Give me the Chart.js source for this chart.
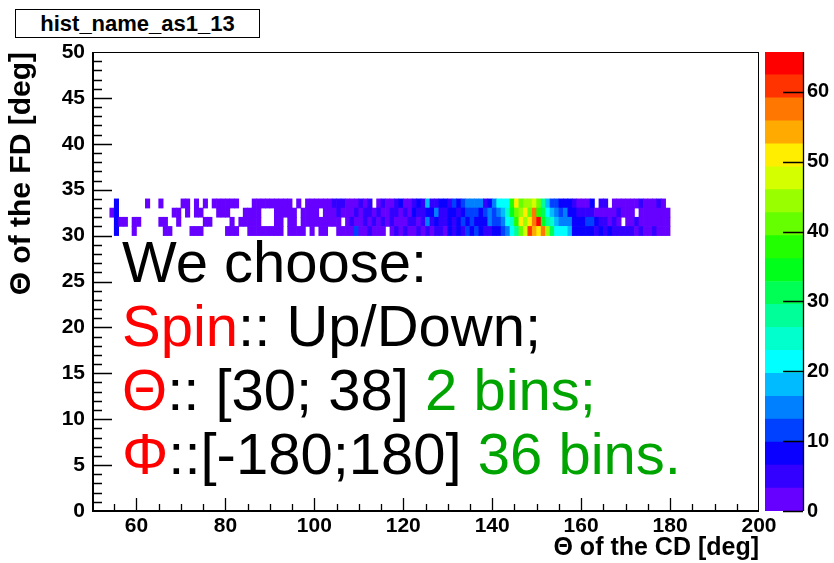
<!DOCTYPE html>
<html>
<head>
<meta charset="utf-8">
<title>hist_name_as1_13</title>
<script src="https://cdn.jsdelivr.net/npm/chart.js@4.4.1/dist/chart.umd.min.js"></script>
<style>
  body { margin: 0; background: #fff; }
  #wrap { position: relative; width: 834px; height: 563px; overflow: hidden; font-family: "Liberation Sans", Arial, sans-serif; }
  #hist { position: absolute; left: 0; top: 0; }
  #palette { position: absolute; left: 760px; top: 0; }
  #title { position: absolute; left: 15px; top: 9px; width: 243px; height: 27px; border: 1px solid #000; background: #fff;
           font-weight: bold; font-size: 22px; line-height: 27px; text-align: center; }
  #note { position: absolute; left: 122px; top: 230px; font-size: 58px; line-height: 64px; color: #000; white-space: nowrap; }
  .red { color: #ff0000; }
  .green { color: #00a400; }
</style>
</head>
<body>
<div id="wrap">
  <canvas id="hist" width="834" height="563"></canvas>
  <canvas id="palette" width="74" height="563"></canvas>
  <div id="title">hist_name_as1_13</div>
  <div id="note">
    <div>We choose:</div>
    <div><span class="red">Spin</span>:: Up/Down;</div>
    <div><span class="red">Θ</span>:: [30; 38] <span class="green">2 bins;</span></div>
    <div><span class="red">Φ</span>::[-180;180] <span class="green">36 bins.</span></div>
  </div>
</div>
<script>
// CD theta bins: 1 deg wide, first bin starts at 54 deg
const cdStart = 54;

// FD theta rows (low edge of each 1 deg bin)
const fdRows = [30, 31, 32, 33];

// Counts per CD bin (54..179) for each FD row
const row30 = [
  0, 9, 0, 0, 0, 1, 0, 0, 0, 0,
  0, 0, 1, 1, 0, 0, 0, 0, 1, 1,
  1, 0, 0, 0, 0, 0, 1, 1, 1, 0,
  0, 1, 1, 1, 1, 1, 1, 2, 1, 0,
  1, 2, 1, 2, 0, 2, 0, 1, 2, 0,
  0, 2, 3, 2, 3, 11, 3, 2, 4, 3,
  3, 2, 0, 2, 4, 3, 4, 3, 2, 5,
  3, 5, 2, 4, 6, 3, 7, 4, 8, 5,
  10, 8, 13, 9, 4, 5, 8, 9, 13, 15,
  22, 28, 40, 46, 60, 54, 50, 57, 44, 30,
  22, 22, 20, 18, 9, 8, 7, 8, 7, 6,
  8, 5, 7, 4, 6, 5, 4, 5, 3, 4,
  3, 2, 4, 3, 3, 2
];
const row31 = [
  0, 8, 2, 1, 0, 1, 1, 0, 0, 0,
  0, 1, 1, 0, 0, 1, 0, 0, 0, 0,
  0, 1, 1, 0, 0, 0, 0, 1, 0, 1,
  1, 1, 1, 1, 0, 0, 0, 1, 1, 0,
  1, 1, 0, 2, 2, 1, 2, 2, 3, 2,
  2, 2, 0, 3, 4, 2, 3, 4, 2, 5,
  2, 4, 3, 5, 2, 3, 3, 6, 4, 3,
  6, 15, 5, 8, 4, 6, 9, 5, 7, 10,
  9, 12, 9, 8, 9, 14, 10, 12, 15, 22,
  24, 38, 52, 44, 50, 57, 65, 34, 27, 26,
  18, 14, 15, 14, 8, 7, 8, 12, 10, 7,
  5, 4, 3, 5, 3, 0, 3, 2, 4, 3,
  2, 3, 2, 2, 2, 3
];
const row32 = [
  1, 9, 0, 0, 0, 0, 0, 0, 0, 0,
  0, 0, 0, 0, 1, 1, 0, 1, 0, 1,
  1, 0, 0, 0, 1, 1, 1, 0, 0, 0,
  1, 1, 1, 1, 0, 0, 0, 1, 2, 1,
  1, 2, 0, 1, 2, 2, 1, 0, 1, 3,
  2, 4, 3, 2, 3, 4, 2, 5, 6, 3,
  4, 2, 2, 4, 6, 3, 4, 3, 7, 4,
  5, 7, 8, 14, 6, 5, 8, 9, 5, 8,
  12, 10, 12, 8, 10, 15, 12, 15, 18, 24,
  35, 40, 45, 51, 40, 58, 38, 30, 22, 17,
  15, 12, 14, 9, 7, 5, 4, 6, 5, 3,
  2, 3, 2, 3, 4, 3, 2, 3, 0, 2,
  3, 2, 3, 2, 3, 2
];
const row33 = [
  0, 8, 0, 0, 0, 0, 0, 0, 1, 0,
  0, 1, 0, 0, 0, 0, 1, 1, 0, 1,
  0, 1, 0, 1, 1, 1, 1, 1, 1, 0,
  0, 0, 1, 1, 1, 2, 1, 1, 1, 1,
  2, 0, 2, 0, 1, 2, 2, 2, 2, 2,
  4, 5, 4, 2, 2, 3, 5, 2, 4, 0,
  3, 5, 3, 2, 5, 7, 3, 2, 5, 8,
  4, 17, 6, 5, 9, 7, 5, 10, 7, 11,
  15, 14, 16, 15, 5, 9, 14, 20, 22, 20,
  37, 51, 42, 45, 44, 46, 40, 28, 18, 12,
  10, 9, 8, 8, 5, 3, 2, 3, 7, 0,
  4, 5, 0, 2, 3, 2, 3, 2, 3, 4,
  2, 3, 2, 4, 2, 0
];

// Axis tick labels
const xTicks = [60, 80, 100, 120, 140, 160, 180, 200];
const yTicks = [0, 5, 10, 15, 20, 25, 30, 35, 40, 45, 50];
const zTicks = [0, 10, 20, 30, 40, 50, 60];

// Z range and the 20-level rainbow palette (violet -> red)
const zMax = 65.7;
const palette = [
  '#6600ff', '#3300ff', '#0a00ff', '#0040ff', '#0080ff',
  '#00bbff', '#00ffff', '#00ffcc', '#00ff99', '#00ff55',
  '#00ff1a', '#22ff00', '#66ff00', '#99ff00', '#d4ff00',
  '#ffee00', '#ffaa00', '#ff7700', '#ff3300', '#ff0000'
];

function binColor(v) {
  const idx = Math.min(palette.length - 1, Math.floor(v / zMax * palette.length));
  return palette[idx];
}

const fontFamily = '"Liberation Sans", Arial, sans-serif';
const boldFont = { family: fontFamily, weight: 'bold', size: 21 };

// Build one floating-bar dataset per FD row; empty bins are skipped
const rows = [row30, row31, row32, row33];
const cellSets = rows.map((counts, r) => {
  const cells = [];
  counts.forEach((v, i) => {
    if (v > 0) cells.push({ x: cdStart + i + 0.5, y: [fdRows[r], fdRows[r] + 1], v: v });
  });
  return {
    data: cells,
    backgroundColor: cells.map(c => binColor(c.v)),
    borderWidth: 0,
    grouped: false,
    barPercentage: 1,
    categoryPercentage: 1
  };
});

// Frame box and inward ticks, drawn on top of the cells
const frameTicks = {
  id: 'frameTicks',
  afterDatasetsDraw(chart) {
    const { ctx, chartArea: a, scales: { x, y } } = chart;
    ctx.save();
    ctx.strokeStyle = '#000';
    ctx.lineWidth = 1;
    ctx.strokeRect(a.left + 0.5, a.top + 0.5, a.right - a.left - 1, a.bottom - a.top);
    ctx.lineWidth = 1.3;
    ctx.beginPath();
    for (let v = 55; v < 200; v += 5) {
      const px = Math.round(x.getPixelForValue(v)) + 0.5;
      const len = v % 20 === 0 ? 13 : 7;
      ctx.moveTo(px, a.bottom);
      ctx.lineTo(px, a.bottom - len);
    }
    for (let v = 1; v < 50; v++) {
      const py = Math.round(y.getPixelForValue(v)) + 0.5;
      const len = v % 5 === 0 ? 20 : 10;
      ctx.moveTo(a.left, py);
      ctx.lineTo(a.left + len, py);
    }
    ctx.stroke();
    // heavier axis lines on left and bottom
    ctx.lineWidth = 2;
    ctx.beginPath();
    ctx.moveTo(a.left + 1, a.top);
    ctx.lineTo(a.left + 1, a.bottom);
    ctx.lineTo(a.right, a.bottom);
    ctx.stroke();
    ctx.restore();
  }
};

new Chart(document.getElementById('hist'), {
  type: 'bar',
  data: { datasets: cellSets },
  options: {
    responsive: false,
    animation: false,
    layout: { padding: { left: 0, top: 52, right: 75, bottom: 0 } },
    plugins: { legend: { display: false }, tooltip: { enabled: false } },
    scales: {
      x: {
        type: 'linear',
        min: 50,
        max: 200,
        offset: false,
        grid: { display: false, drawTicks: false },
        border: { display: false },
        afterBuildTicks: s => { s.ticks = xTicks.map(v => ({ value: v })); },
        afterFit: s => { s.height = 52; },
        ticks: { color: '#000', font: boldFont, padding: 3, maxRotation: 0, autoSkip: false },
        title: {
          display: true,
          text: 'Θ of the CD [deg]',
          align: 'end',
          color: '#000',
          font: { family: fontFamily, weight: 'bold', size: 25 },
          padding: { top: 0, bottom: 0 }
        }
      },
      y: {
        type: 'linear',
        min: 0,
        max: 50,
        grid: { display: false, drawTicks: false },
        border: { display: false },
        afterBuildTicks: s => { s.ticks = yTicks.map(v => ({ value: v })); },
        afterFit: s => { s.width = 92; },
        ticks: { color: '#000', font: boldFont, padding: 7, autoSkip: false },
        title: {
          display: true,
          text: 'Θ of the FD [deg]',
          align: 'end',
          color: '#000',
          font: { family: fontFamily, weight: 'bold', size: 30 },
          padding: { top: 4, bottom: 0 }
        }
      }
    }
  },
  plugins: [frameTicks]
});

// Colour scale: one floating bar per contour level
const levels = palette.map((c, i) => [zMax * i / palette.length, zMax * (i + 1) / palette.length]);

const paletteTicks = {
  id: 'paletteTicks',
  afterDatasetsDraw(chart) {
    const { ctx, chartArea: a, scales: { y } } = chart;
    ctx.save();
    ctx.strokeStyle = '#000';
    ctx.lineWidth = 1.3;
    ctx.beginPath();
    zTicks.forEach(v => {
      const py = Math.round(y.getPixelForValue(v)) + 0.5;
      ctx.moveTo(a.right, py);
      ctx.lineTo(a.right - 20, py);
    });
    ctx.moveTo(a.right + 0.5, a.top);
    ctx.lineTo(a.right + 0.5, a.bottom);
    ctx.stroke();
    ctx.restore();
  }
};

new Chart(document.getElementById('palette'), {
  type: 'bar',
  data: {
    labels: [''],
    datasets: levels.map((lv, i) => ({
      data: [lv],
      backgroundColor: palette[i],
      borderWidth: 0,
      grouped: false,
      barPercentage: 1,
      categoryPercentage: 1
    }))
  },
  options: {
    responsive: false,
    animation: false,
    layout: { padding: { left: 5, top: 52, right: 0, bottom: 52 } },
    plugins: { legend: { display: false }, tooltip: { enabled: false } },
    scales: {
      x: { display: false },
      y: {
        position: 'right',
        min: 0,
        max: zMax,
        grid: { display: false, drawTicks: false },
        border: { display: false },
        afterBuildTicks: s => { s.ticks = zTicks.map(v => ({ value: v })); },
        afterFit: s => { s.width = 31; },
        ticks: { color: '#000', font: { family: fontFamily, weight: 'bold', size: 20 }, padding: 4, autoSkip: false }
      }
    }
  },
  plugins: [paletteTicks]
});
</script>
</body>
</html>
